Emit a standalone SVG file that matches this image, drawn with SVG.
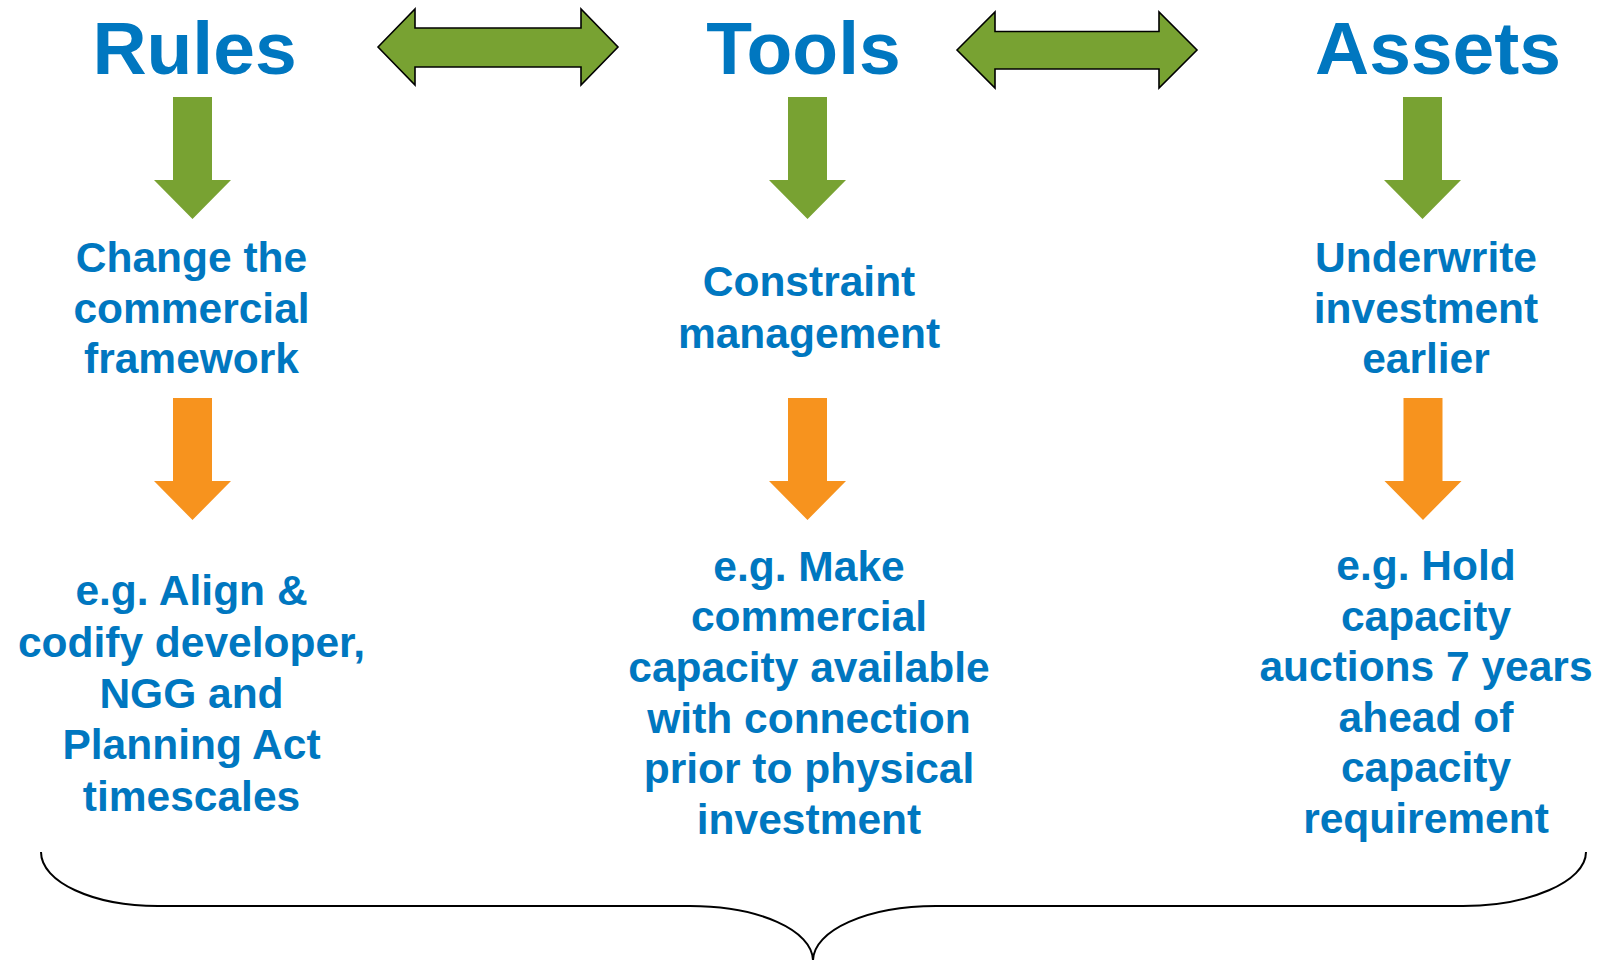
<svg xmlns="http://www.w3.org/2000/svg" width="1604" height="960" viewBox="0 0 1604 960">
  <style>
    .title { font-family: "Liberation Sans", Arial, sans-serif; font-weight: bold; font-size: 75px; fill: #0077C0; text-anchor: middle; }
    .label { font-family: "Liberation Sans", Arial, sans-serif; font-weight: bold; font-size: 42.5px; fill: #0077C0; text-anchor: middle; }
    .green { fill: #78A232; }
    .orange { fill: #F7931E; }
    .link { fill: #78A232; stroke: #000; stroke-width: 1.6; stroke-linejoin: miter; }
    .brace { fill: none; stroke: #000; stroke-width: 2; }
  </style>
  <defs>
    <!-- block arrow pointing down, origin at the top centre of the shaft -->
    <path id="down" d="M -19.5 0 H 19.5 V 83 H 38.5 L 0 122 L -38.5 83 H -19.5 Z"/>
  </defs>
  <rect width="1604" height="960" fill="#fff"/>

  <!-- column headings -->
  <g id="rules"><text class="title" x="194.5" y="74">Rules</text></g>
  <g id="tools"><text class="title" x="803.5" y="74">Tools</text></g>
  <g id="assets"><text class="title" x="1438" y="74">Assets</text></g>

  <!-- what each lever does -->
  <g id="rules-aim">
    <text class="label" x="191.5" y="272">Change the</text>
    <text class="label" x="191.5" y="322.5">commercial</text>
    <text class="label" x="191.5" y="373">framework</text>
  </g>
  <g id="tools-aim">
    <text class="label" x="809" y="296">Constraint</text>
    <text class="label" x="809" y="347.5">management</text>
  </g>
  <g id="assets-aim">
    <text class="label" x="1426" y="272">Underwrite</text>
    <text class="label" x="1426" y="322.5">investment</text>
    <text class="label" x="1426" y="373">earlier</text>
  </g>

  <!-- examples -->
  <g id="rules-example">
    <text class="label" x="191.5" y="605">e.g. Align &amp;</text>
    <text class="label" x="191.5" y="656.5">codify developer,</text>
    <text class="label" x="191.5" y="708">NGG and</text>
    <text class="label" x="191.5" y="759">Planning Act</text>
    <text class="label" x="191.5" y="810.5">timescales</text>
  </g>
  <g id="tools-example">
    <text class="label" x="809" y="580.5">e.g. Make</text>
    <text class="label" x="809" y="631">commercial</text>
    <text class="label" x="809" y="681.5">capacity available</text>
    <text class="label" x="809" y="733">with connection</text>
    <text class="label" x="809" y="783">prior to physical</text>
    <text class="label" x="809" y="834">investment</text>
  </g>
  <g id="assets-example">
    <text class="label" x="1426" y="580">e.g. Hold</text>
    <text class="label" x="1426" y="630.5">capacity</text>
    <text class="label" x="1426" y="681">auctions 7 years</text>
    <text class="label" x="1426" y="731.5">ahead of</text>
    <text class="label" x="1426" y="782">capacity</text>
    <text class="label" x="1426" y="833">requirement</text>
  </g>

  <g id="connectors">
    <!-- two-way links between headings -->
    <path class="link" d="M 378 47 L 415 9 V 28 H 581 V 9 L 618 47 L 581 85 V 67 H 415 V 85 Z"/>
    <path class="link" d="M 957 50 L 995 12 V 31.5 H 1159 V 12 L 1197 50 L 1159 88 V 69 H 995 V 88 Z"/>
    <!-- heading to aim -->
    <use href="#down" class="green" x="192.5" y="97"/>
    <use href="#down" class="green" x="807.5" y="97"/>
    <use href="#down" class="green" x="1422.5" y="97"/>
    <!-- aim to example -->
    <use href="#down" class="orange" x="192.5" y="398"/>
    <use href="#down" class="orange" x="807.5" y="398"/>
    <use href="#down" class="orange" x="1423" y="398"/>
    <!-- brace gathering the three columns -->
    <path class="brace" d="M 41 852 C 41 882, 93 906, 158 906 L 690 906 C 758 906, 813 930, 813 961 C 813 930, 868 906, 936 906 L 1463 906 C 1528 906, 1586 882, 1586 852"/>
  </g>
</svg>
